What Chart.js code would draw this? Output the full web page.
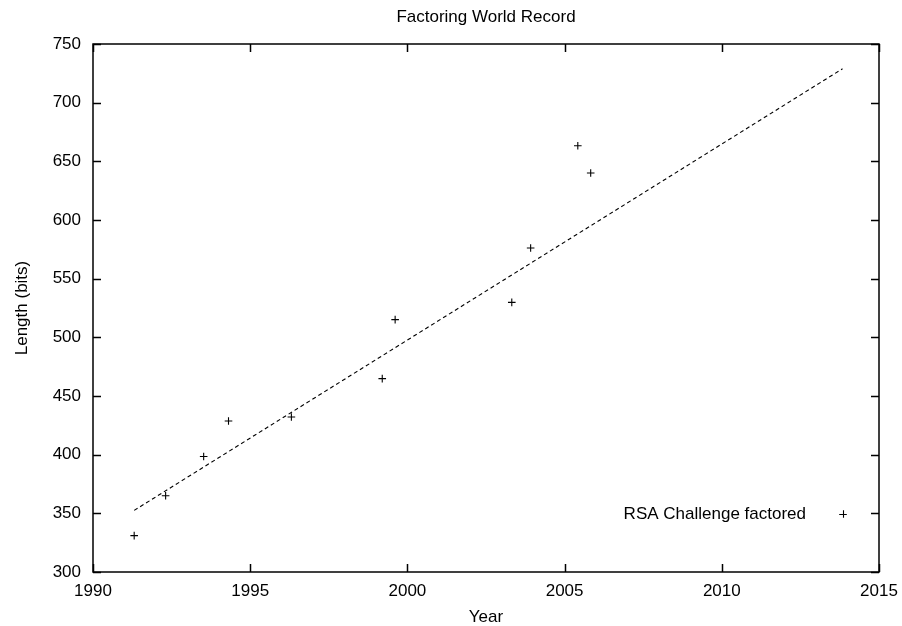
<!DOCTYPE html>
<html>
<head>
<meta charset="utf-8">
<script src="https://cdn.jsdelivr.net/npm/chart.js@4.4.1/dist/chart.umd.min.js"></script>
<style>
  html, body { margin: 0; padding: 0; background: #fff; }
  #wrap { width: 902px; height: 626px; position: relative; }
</style>
</head>
<body>
<div id="wrap"><canvas id="c"></canvas></div>
<script>
// ---- data ----
const years = [1991.31, 1992.31, 1993.52, 1994.31, 1996.31, 1999.20, 1999.61, 2003.32, 2003.92, 2005.42, 2005.83];
const bits  = [331, 365, 398.5, 428.7, 432.1, 464.8, 515.1, 529.8, 576.1, 663.3, 640.1];
const fitYears = [1991.31, 2013.84];
const fitBits  = [352.5, 728.9];
const xMin = 1990, xMax = 2015, xStep = 5;
const yMin = 300, yMax = 750, yStep = 50;
const chartTitle = 'Factoring World Record';
const xTitle = 'Year';
const yTitle = 'Length (bits)';
const seriesLabel = 'RSA Challenge factored';

const FONT = '"Liberation Sans", Arial, Helvetica, sans-serif';
const FS = 17;

const points = years.map((x, i) => ({ x: x, y: bits[i] }));
const fitLine = fitYears.map((x, i) => ({ x: x, y: fitBits[i] }));

const framePlugin = {
  id: 'frame',
  afterDraw(chart) {
    const ctx = chart.ctx;
    const a = chart.chartArea;
    const xs = chart.scales.x, ys = chart.scales.y;
    const tl = 8;
    ctx.save();
    ctx.strokeStyle = '#000';
    ctx.lineWidth = 1.5;
    ctx.beginPath();
    xs.ticks.forEach(t => {
      const px = Math.round(xs.getPixelForValue(t.value)) + 0.5;
      ctx.moveTo(px, a.bottom); ctx.lineTo(px, a.bottom - tl);
      ctx.moveTo(px, a.top); ctx.lineTo(px, a.top + tl);
    });
    ys.ticks.forEach(t => {
      const py = Math.round(ys.getPixelForValue(t.value)) + 0.5;
      ctx.moveTo(a.left, py); ctx.lineTo(a.left + tl, py);
      ctx.moveTo(a.right, py); ctx.lineTo(a.right - tl, py);
    });
    ctx.stroke();
    ctx.strokeRect(a.left, a.top, a.right - a.left, a.bottom - a.top);

    // key (legend) inside plot, bottom right
    const ds = chart.data.datasets[0];
    const ly = 514;
    ctx.fillStyle = '#000';
    ctx.font = FS + 'px ' + FONT;
    ctx.textAlign = 'right';
    ctx.textBaseline = 'middle';
    ctx.fillText(ds.label, 806, ly + 0.5);
    ctx.lineWidth = 1.1;
    ctx.beginPath();
    const cx = 843, r = 3.8;
    ctx.moveTo(cx - r, ly + 0.5); ctx.lineTo(cx + r, ly + 0.5);
    ctx.moveTo(cx + 0.5, ly - r); ctx.lineTo(cx + 0.5, ly + r);
    ctx.stroke();
    ctx.restore();
  }
};

new Chart(document.getElementById('c'), {
  type: 'scatter',
  data: {
    datasets: [
      {
        label: seriesLabel,
        data: points,
        pointStyle: 'cross',
        pointRadius: 3.8,
        pointBorderWidth: 1.1,
        borderColor: '#000',
        backgroundColor: '#000',
        showLine: false
      },
      {
        label: 'fit',
        data: fitLine,
        showLine: true,
        pointRadius: 0,
        borderColor: '#000',
        borderWidth: 1.1,
        borderDash: [4, 3]
      }
    ]
  },
  options: {
    responsive: true,
    maintainAspectRatio: false,
    animation: false,
    devicePixelRatio: 1,
    layout: { padding: { top: 0, right: 23, bottom: 0, left: 0 } },
    plugins: {
      legend: { display: false },
      tooltip: { enabled: false },
      title: {
        display: true,
        text: chartTitle,
        fullSize: false,
        color: '#000',
        font: { family: FONT, size: FS, weight: 'normal', lineHeight: 1.2 },
        padding: { top: 6.8, bottom: 16.8 }
      }
    },
    scales: {
      x: {
        type: 'linear',
        min: xMin, max: xMax,
        grid: { display: false, drawTicks: false },
        border: { display: false },
        ticks: {
          stepSize: xStep,
          color: '#000',
          padding: 9.5,
          maxRotation: 0,
          font: { family: FONT, size: FS },
          callback: v => String(v)
        },
        title: {
          display: true,
          text: xTitle,
          color: '#000',
          font: { family: FONT, size: FS, lineHeight: 1 },
          padding: { top: 0, bottom: 0 }
        },
        afterFit(s) { s.height = 54; s.paddingLeft = 0; s.paddingRight = 0; }
      },
      y: {
        type: 'linear',
        min: yMin, max: yMax,
        grid: { display: false, drawTicks: false },
        border: { display: false },
        ticks: {
          stepSize: yStep,
          color: '#000',
          padding: 12,
          font: { family: FONT, size: FS }
        },
        title: {
          display: true,
          text: yTitle,
          color: '#000',
          font: { family: FONT, size: FS, lineHeight: 1 },
          padding: { top: 14, bottom: 0 }
        },
        afterFit(s) { s.width = 93; s.paddingTop = 0; s.paddingBottom = 0; }
      }
    }
  },
  plugins: [framePlugin]
});
</script>
</body>
</html>
